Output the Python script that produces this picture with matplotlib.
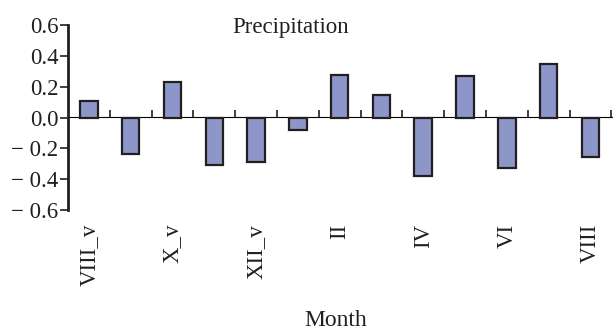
import matplotlib
matplotlib.use("Agg")
import matplotlib.pyplot as plt
import numpy as np

months = ["VIII_v", "IX_v", "X_v", "XI_v", "XII_v", "I", "II",
          "III", "IV", "V", "VI", "VII", "VIII"]
precip = [0.11, -0.235, 0.23, -0.305, -0.29, -0.08, 0.275,
          0.145, -0.377, 0.27, -0.326, 0.35, -0.254]
yticks = [-0.6, -0.4, -0.2, 0.0, 0.2, 0.4, 0.6]
ytick_labels = ["\u2212 0.6", "\u2212 0.4", "\u2212 0.2", "0.0", "0.2", "0.4", "0.6"]

plt.rcParams["font.family"] = ["Liberation Serif", "DejaVu Serif"]
FS = 16.5

fig = plt.figure(figsize=(6.13, 3.32), dpi=100)
ax = fig.add_axes([68 / 613, 1 - 210 / 332, 1 - 68 / 613, 185 / 332])

x = np.arange(len(months))
ax.bar(x, precip, width=0.42, color="#8c96c8", edgecolor="#231f20",
       linewidth=1.6, zorder=3)

ax.set_xlim(-0.5, 12.54)
ax.set_ylim(-0.6, 0.6)

for side in ("top", "right", "bottom"):
    ax.spines[side].set_visible(False)
ax.spines["left"].set_linewidth(2.0)
ax.spines["left"].set_color("#231f20")

ax.set_yticks(yticks)
ax.set_yticklabels(ytick_labels, fontsize=FS, color="#231f20")
ax.tick_params(axis="y", direction="out", length=6, width=1.2,
               pad=1, colors="#231f20")

# month labels for every other bar, placed beneath the plot area
ax.set_xticks(x[::2])
ax.set_xticklabels(months[::2], rotation=90, fontsize=FS, va="top",
                   color="#231f20")
ax.tick_params(axis="x", length=0, pad=10)

# zero line with small boundary ticks between bars
zero_ax = ax.secondary_xaxis(0.5)
zero_ax.set_xticks(np.arange(0.5, 12.6, 1.0))
zero_ax.set_xticklabels([])
zero_ax.tick_params(axis="x", direction="out", length=5, width=1.2,
                    colors="#231f20")
zero_ax.spines["bottom"].set_linewidth(2.0)
zero_ax.spines["bottom"].set_color("#231f20")

fig.text(291 / 613, 1 - 33 / 332, "Precipitation", fontsize=FS,
         ha="center", va="baseline", color="#231f20")
fig.text(336 / 613, 1 - 331 / 332, "Month", fontsize=FS + 0.5,
         ha="center", va="bottom", color="#231f20")

fig.savefig("out.png", dpi=100)
